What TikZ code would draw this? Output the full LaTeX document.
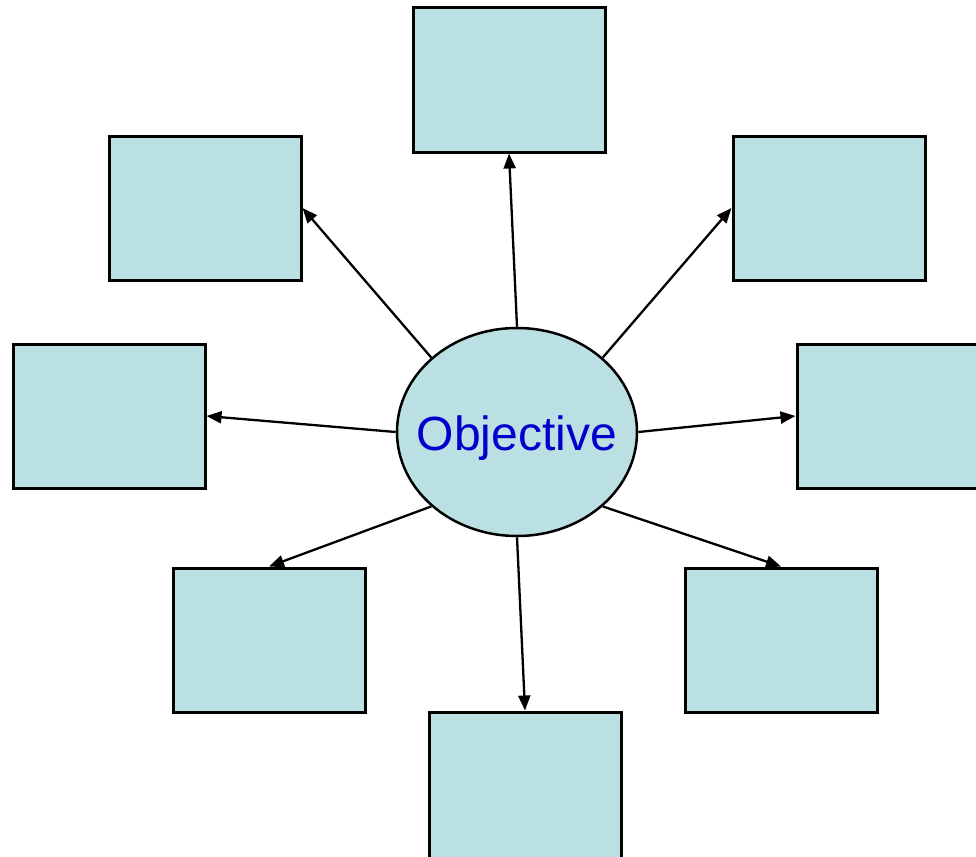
\documentclass[tikz,border=0pt]{standalone}
\usepackage{fontspec}
\setmainfont{Liberation Sans}
\usetikzlibrary{arrows.meta,shapes.geometric}
\definecolor{boxfill}{HTML}{BBE0E3}
\definecolor{objtext}{HTML}{0000CC}
\begin{document}
\begin{tikzpicture}[x=1pt,y=-1pt,
  box/.style={draw=black, line width=3pt, fill=boxfill, rectangle, minimum width=192pt, minimum height=144pt, inner sep=0pt},
  obj/.style={draw=black, line width=2.5pt, fill=boxfill, ellipse, minimum width=240pt, minimum height=208pt, inner sep=0pt},
  objlabel/.style={text=objtext, inner sep=0pt, font=\fontsize{48}{56}\selectfont},
  conn/.style={draw=black, line width=2.3pt, -{Triangle[length=15pt,width=12pt]}}]
\useasboundingbox (0,0) rectangle (976,856);
\clip (0,0) rectangle (976,856);
\node[box] (T) at (509,80) {};
\node[box] (UL) at (205,208) {};
\node[box] (UR) at (829,208) {};
\node[box] (L) at (109,416) {};
\node[box] (R) at (893,416) {};
\node[box] (LL) at (269,640) {};
\node[box] (LR) at (781,640) {};
\node[box, minimum height=150pt] (B) at (525,787) {};
\node[obj] (O) at (517,432) {};
\node[objlabel, anchor=base] (Olab) at (517,450) {Objective};
\draw[conn] (O.north) -- (T.south);
\draw[conn] (O.north west) -- (UL.east);
\draw[conn] (O.north east) -- (UR.west);
\draw[conn] (O.west) -- (L.east);
\draw[conn] (O.east) -- (R.west);
\draw[conn] (O.south west) -- (LL.north);
\draw[conn] (O.south east) -- (LR.north);
\draw[conn] (O.south) -- (B.north);
\end{tikzpicture}
\end{document}
